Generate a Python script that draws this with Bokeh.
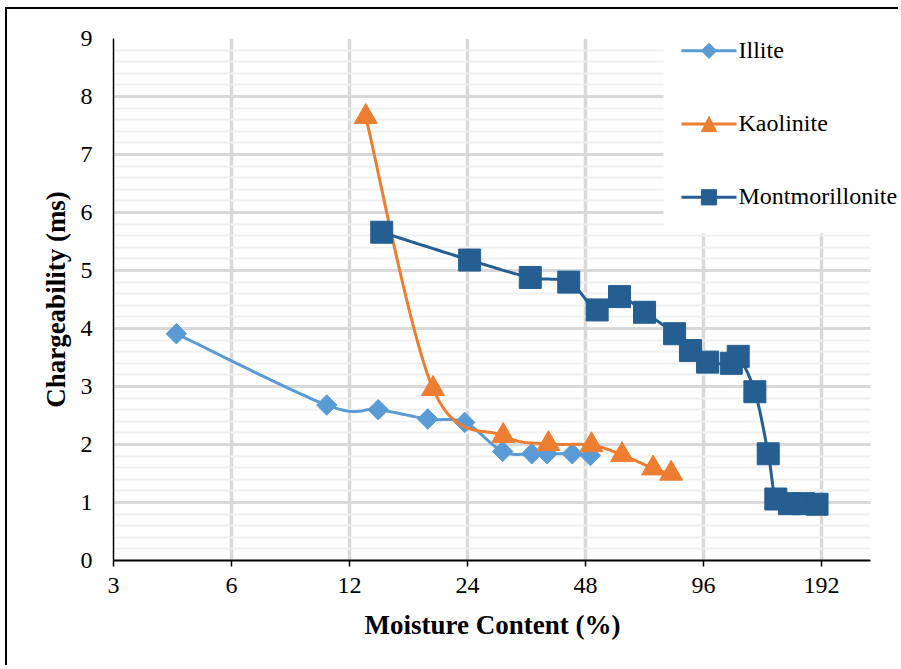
import numpy as np
from bokeh.plotting import figure
from bokeh.models import (Range1d, FixedTicker, NumeralTickFormatter, BoxAnnotation,
                          PolyAnnotation, Label, Title)
from bokeh.embed import file_html
from bokeh.resources import INLINE

# ---- data ----
illite_x = [4.34, 10.5, 14.2, 19.0, 23.6, 29.5, 35.0, 38.3, 44.4, 49.4]
illite_y = [3.91, 2.68, 2.60, 2.44, 2.38, 1.88, 1.84, 1.84, 1.84, 1.81]

kaol_x = [13.2, 19.6, 29.6, 38.6, 49.7, 59.5, 71.4, 79.4]
kaol_y = [7.65, 2.96, 2.15, 2.01, 1.99, 1.82, 1.59, 1.50]

mont_x = [14.5, 24.3, 34.7, 43.5, 51.4, 58.6, 67.9, 81.0, 88.9, 98.3,
          113.0, 117.7, 129.8, 140.4, 146.8, 159.0, 172.7, 187.0]
mont_y = [5.66, 5.18, 4.88, 4.80, 4.32, 4.55, 4.28, 3.91, 3.62, 3.42,
          3.40, 3.52, 2.91, 1.84, 1.06, 0.98, 0.98, 0.97]

x_ticks = [3, 6, 12, 24, 48, 96, 192]
y_ticks = [0, 1, 2, 3, 4, 5, 6, 7, 8, 9]
x_axis_min, x_axis_max = 3, 256
series_names = ["Illite", "Kaolinite", "Montmorillonite"]
colors = ["#5B9BD5", "#ED7D31", "#255E91"]
x_title = "Moisture Content (%)"
y_title = "Chargeability (ms)"


def smooth(xs, ys, n=24):
    """Bezier smoothing (Excel-like) in log2(x)/y space."""
    u = np.log2(np.asarray(xs, float))
    v = np.asarray(ys, float)
    P = np.column_stack([u, v])
    m = len(P)
    out = [P[0]]
    t = np.linspace(0, 1, n)[1:]
    for i in range(m - 1):
        p0 = P[i - 1] if i > 0 else P[i]
        p1 = P[i]
        p2 = P[i + 1]
        p3 = P[i + 2] if i + 2 < m else P[i + 1]
        c1 = p1 + (p2 - p0) / 6.0
        c2 = p2 - (p3 - p1) / 6.0
        for tt in t:
            b = ((1 - tt) ** 3) * p1 + 3 * ((1 - tt) ** 2) * tt * c1 + 3 * (1 - tt) * tt ** 2 * c2 + tt ** 3 * p2
            out.append(b)
    out = np.array(out)
    return list(2 ** out[:, 0]), list(out[:, 1])


SERIF = "Liberation Serif"
# canvas origin sits at page (7, 9) because of the chart-area border
OX, OY = 7, 9
W, H = 893, 658
PLOT_L, PLOT_T, PLOT_B = 113, 37.7, 560      # plot-area edges in page pixels
PLOT_AXIS_R = 870                            # where the x axis ends (x = 256)
FRAME_R = OX + W                             # frame runs to the canvas edge
px_per_oct = (PLOT_AXIS_R - PLOT_L) / np.log2(x_axis_max / x_axis_min)
x_frame_end = x_axis_min * 2 ** ((FRAME_R - PLOT_L) / px_per_oct)

p = figure(width=W, height=H, x_axis_type="log",
           x_range=Range1d(x_axis_min, x_frame_end), y_range=Range1d(0, 9),
           output_backend="svg", toolbar_location=None,
           min_border_left=PLOT_L - OX, min_border_top=int(round(PLOT_T - OY)),
           min_border_right=0, min_border_bottom=H - (PLOT_B - OY),
           background_fill_color="white", border_fill_color="white")
p.styles = {"margin-left": "5px", "margin-top": "7px",
            "border-left": "2px solid black", "border-top": "2px solid black"}
p.outline_line_color = None

# axes
p.xaxis.ticker = FixedTicker(ticks=x_ticks)
p.xaxis.formatter = NumeralTickFormatter(format="0")
p.xaxis.bounds = (x_axis_min, x_axis_max)
p.yaxis.ticker = FixedTicker(ticks=y_ticks, minor_ticks=[i / 5 for i in range(46)])
for ax in (p.xaxis, p.yaxis):
    ax.major_label_text_font = SERIF
    ax.major_label_text_font_size = "24px"
    ax.major_label_text_color = "black"
    ax.axis_label_text_font = SERIF
    ax.axis_label_text_font_size = "27px"
    ax.axis_label_text_font_style = "bold"
    ax.axis_label_text_color = "black"
    ax.axis_line_color = "black"
    ax.minor_tick_line_color = None
p.yaxis.axis_label = y_title
p.xaxis.axis_line_width = 2
p.xaxis.major_tick_line_color = "black"
p.xaxis.major_tick_line_width = 1.5
p.xaxis.major_tick_out = 6
p.xaxis.major_tick_in = 0
p.xaxis.major_label_standoff = 11
p.yaxis.axis_line_width = 1.5
p.yaxis.major_tick_line_color = None
p.yaxis.major_tick_out = 0
p.yaxis.major_tick_in = 0
p.yaxis.major_label_standoff = 17
p.yaxis.axis_label_standoff = 7

# x-axis title: centred on the plot area (3..256), not on the wider frame
p.add_layout(Title(text=x_title, align="left", offset=365 - PLOT_L - 1, standoff=24,
                   text_font=SERIF, text_font_size="27px", text_font_style="bold",
                   text_color="black"), "below")

# grids
p.xgrid.grid_line_color = "#D9D9D9"
p.xgrid.grid_line_width = 3.5
p.ygrid.grid_line_color = "#D9D9D9"
p.ygrid.grid_line_width = 3
p.ygrid.minor_grid_line_color = "#F0F0F0"
p.ygrid.minor_grid_line_width = 2

# series
data = [(illite_x, illite_y), (kaol_x, kaol_y), (mont_x, mont_y)]
markers = [("square", 14.5, np.pi / 4), ("triangle", 23, 0.0), ("square", 22, 0.0)]
for (xs, ys), name, col, (mk, sz, ang) in zip(data, series_names, colors, markers):
    sx, sy = smooth(xs, ys)
    p.line(sx, sy, line_color=col, line_width=3)
    p.scatter(xs, ys, marker=mk, size=sz, angle=ang,
              fill_color=col, line_color=col, line_width=1)

# blank the part of the frame right of the plot area (x > 256)
p.add_layout(BoxAnnotation(left=x_axis_max, fill_color="white", fill_alpha=1,
                           line_color=None))

# legend (drawn by hand, in canvas pixels)
def cx(v):
    return v - OX


def cy(v):
    return v - OY


p.add_layout(BoxAnnotation(left=cx(661), top=0, right=W + 10, bottom=cy(231),
                           left_units="canvas", right_units="canvas",
                           top_units="canvas", bottom_units="canvas",
                           fill_color="white", fill_alpha=1, line_color=None))
leg_y = [48.3, 121.5, 194.8]
gx0, gx1, gxc, hs = 679, 734, 706.5, 7.6
for name, col, yy, shape in zip(series_names, colors, leg_y, ["diamond", "triangle", "square"]):
    p.add_layout(BoxAnnotation(left=cx(gx0), right=cx(gx1), top=cy(yy - 1.5), bottom=cy(yy + 1.5),
                               left_units="canvas", right_units="canvas",
                               top_units="canvas", bottom_units="canvas",
                               fill_color=col, fill_alpha=1, line_color=None))
    if shape == "diamond":
        xs_ = [gxc, gxc + hs, gxc, gxc - hs]
        ys_ = [yy - hs, yy, yy + hs, yy]
    elif shape == "triangle":
        xs_ = [gxc - hs, gxc + hs, gxc]
        ys_ = [yy + hs, yy + hs, yy - hs]
    else:
        xs_ = [gxc - hs, gxc + hs, gxc + hs, gxc - hs]
        ys_ = [yy - hs, yy - hs, yy + hs, yy + hs]
    p.add_layout(PolyAnnotation(xs=[cx(v) for v in xs_], ys=[cy(v) for v in ys_],
                                xs_units="canvas", ys_units="canvas",
                                fill_color=col, fill_alpha=1, line_color=col, line_alpha=1,
                                line_width=1))
    p.add_layout(Label(x=cx(736), y=cy(yy - 1), x_units="canvas", y_units="canvas", text=name,
                       text_font=SERIF, text_font_size="24px", text_color="black",
                       text_baseline="alphabetic", text_align="left"))

open("out.html", "w").write(file_html(p, INLINE))
